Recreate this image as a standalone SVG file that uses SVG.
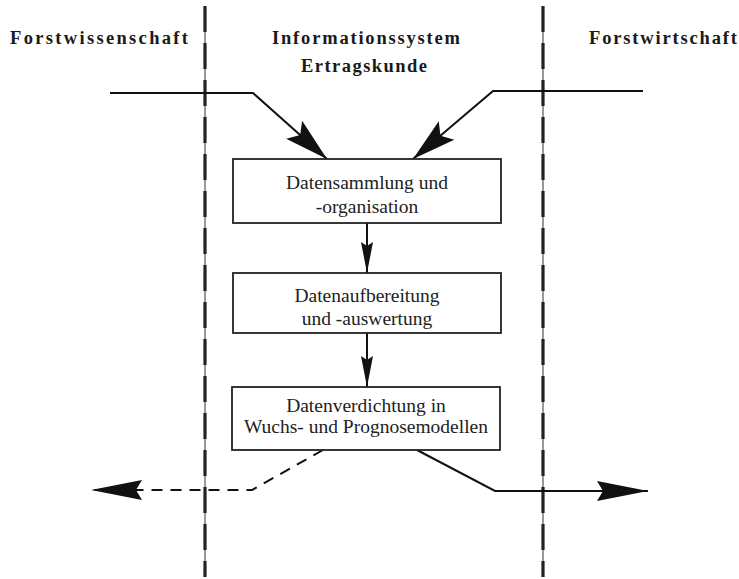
<svg xmlns="http://www.w3.org/2000/svg" width="739" height="579" viewBox="0 0 739 579">
<style>
.hdr{font-family:"Liberation Serif","Times New Roman",serif;font-weight:bold;font-size:18.5px;fill:#1a1a1a}
.box{fill:#fff;stroke:#222;stroke-width:1.8}
.lbl{font-family:"Liberation Serif","Times New Roman",serif;font-size:19.5px;fill:#222;text-anchor:middle}
.thin{stroke:#333;stroke-width:1;fill:none}
.dash{stroke:#222;stroke-width:3.2;fill:none;stroke-dasharray:26 11}
.flow{stroke:#111;stroke-width:2;fill:none}
.fdash{stroke:#111;stroke-width:2;fill:none;stroke-dasharray:11 8}
</style>
<defs>
<marker id="big" viewBox="-46 -13 48 26" refX="0" refY="0" markerWidth="48" markerHeight="26" markerUnits="userSpaceOnUse" orient="auto">
<path d="M0,0 L-44,-12 L-36,0 L-44,12 Z" fill="#111"/>
</marker>
<marker id="wide" viewBox="-52 -11 54 22" refX="0" refY="0" markerWidth="54" markerHeight="22" markerUnits="userSpaceOnUse" orient="auto">
<path d="M0,0 L-51,-10 L-45,0 L-51,10 Z" fill="#111"/>
</marker>
<marker id="small" viewBox="-32 -7 34 14" refX="0" refY="0" markerWidth="34" markerHeight="14" markerUnits="userSpaceOnUse" orient="auto">
<path d="M0,0 L-31,-6 L-27,0 L-31,6 Z" fill="#111"/>
</marker>
</defs>
<rect width="739" height="579" fill="#fff"/>
<g id="lanes">
<line class="thin" x1="205" y1="6" x2="205" y2="577"/>
<line class="dash" x1="205" y1="6" x2="205" y2="577"/>
<line class="thin" x1="543" y1="6" x2="543" y2="577"/>
<line class="dash" x1="543" y1="6" x2="543" y2="577"/>
</g>
<g id="headers">
<text class="hdr" x="10" y="44" textLength="178" lengthAdjust="spacing">Forstwissenschaft</text>
<text class="hdr" x="272" y="44" textLength="188" lengthAdjust="spacing">Informationssystem</text>
<text class="hdr" x="301" y="72" textLength="126" lengthAdjust="spacing">Ertragskunde</text>
<text class="hdr" x="589" y="44" textLength="148" lengthAdjust="spacing">Forstwirtschaft</text>
</g>
<g id="connectors">
<polyline class="flow" points="110,93 253,93 327,159" marker-end="url(#big)"/>
<polyline class="flow" points="643,91 493,91 413,159" marker-end="url(#big)"/>
<line class="flow" x1="367" y1="223" x2="367" y2="273" marker-end="url(#small)"/>
<line class="flow" x1="367" y1="333" x2="367" y2="387" marker-end="url(#small)"/>
<polyline class="fdash" points="323,450 252,490 91,490" marker-end="url(#wide)"/>
<polyline class="flow" points="417,450 495,491 648,491" marker-end="url(#wide)"/>
</g>
<g id="node1">
<rect class="box" x="233" y="159" width="268" height="64"/>
<text class="lbl" x="367" y="189">Datensammlung und</text>
<text class="lbl" x="367" y="213">-organisation</text>
</g>
<g id="node2">
<rect class="box" x="233" y="273" width="268" height="60"/>
<text class="lbl" x="367" y="302">Datenaufbereitung</text>
<text class="lbl" x="367" y="325">und -auswertung</text>
</g>
<g id="node3">
<rect class="box" x="232" y="387" width="268" height="63"/>
<text class="lbl" x="366" y="412">Datenverdichtung in</text>
<text class="lbl" x="366" y="433">Wuchs- und Prognosemodellen</text>
</g>
</svg>
